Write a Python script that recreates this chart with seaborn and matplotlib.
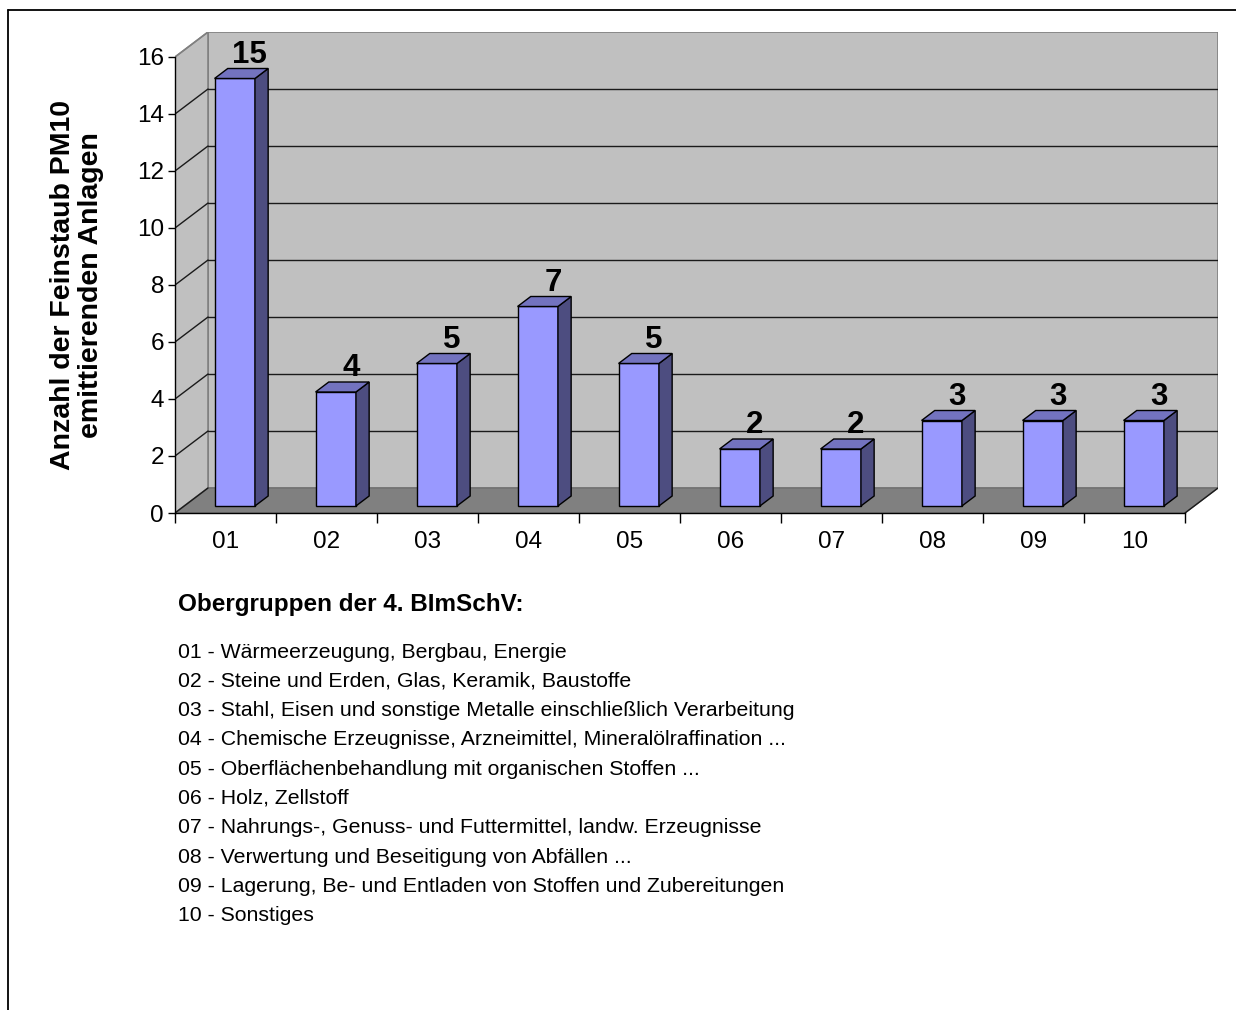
import numpy as np
import pandas as pd
import matplotlib
matplotlib.use("Agg")
import matplotlib.pyplot as plt
import seaborn as sns
from matplotlib.patches import Polygon
from matplotlib.lines import Line2D

# ---------------- data ----------------
codes = ["01", "02", "03", "04", "05", "06", "07", "08", "09", "10"]
counts = [15, 4, 5, 7, 5, 2, 2, 3, 3, 3]
y_ticks = [0, 2, 4, 6, 8, 10, 12, 14, 16]
y_label = "Anzahl der Feinstaub PM10\nemittierenden Anlagen"
legend_title = "Obergruppen der 4. BImSchV:"
group_names = [
    "01 - Wärmeerzeugung, Bergbau, Energie",
    "02 - Steine und Erden, Glas, Keramik, Baustoffe",
    "03 - Stahl, Eisen und sonstige Metalle einschließlich Verarbeitung",
    "04 - Chemische Erzeugnisse, Arzneimittel, Mineralölraffination ...",
    "05 - Oberflächenbehandlung mit organischen Stoffen ...",
    "06 - Holz, Zellstoff",
    "07 - Nahrungs-, Genuss- und Futtermittel, landw. Erzeugnisse",
    "08 - Verwertung und Beseitigung von Abfällen ...",
    "09 - Lagerung, Be- und Entladen von Stoffen und Zubereitungen",
    "10 - Sonstiges",
]

# ---------------- style ----------------
sns.set_theme(style="white")
plt.rcParams["font.family"] = ["Liberation Sans", "DejaVu Sans"]
plt.rcParams["text.color"] = "black"
plt.rcParams["axes.labelcolor"] = "black"
plt.rcParams["xtick.color"] = "black"
plt.rcParams["ytick.color"] = "black"

W_PX, H_PX = 1236, 1010
fig = plt.figure(figsize=(W_PX / 100, H_PX / 100), dpi=100)

# 3D depth (data units) of the whole box and of the bars
DX, DY = 0.327, 0.877
F1, F2 = 0.28, 0.40
ymax = max(y_ticks)
n = len(codes)

# axes: front y axis at x=175px, floor front at y=513px
left_px, right_px, top_px, bot_px = 175, 1218, 32, 513
ax = fig.add_axes([left_px / W_PX, 1 - bot_px / H_PX,
                   (right_px - left_px) / W_PX, (bot_px - top_px) / H_PX])
ax.set_facecolor("none")

df = pd.DataFrame({"code": codes, "count": counts})
sns.barplot(data=df, x="code", y="count", ax=ax, width=0.4, color="#9999ff",
            saturation=1, edgecolor="black", linewidth=1.0, zorder=5)
bar_patches = list(ax.patches)

x0, x1 = -0.5, n - 0.5

# walls
back = Polygon([(x0 + DX, DY), (x1 + DX, DY), (x1 + DX, ymax + DY), (x0 + DX, ymax + DY)],
               closed=True, facecolor="#c0c0c0", edgecolor="#808080", lw=1.2, zorder=0)
side = Polygon([(x0, 0), (x0 + DX, DY), (x0 + DX, ymax + DY), (x0, ymax)],
               closed=True, facecolor="#c0c0c0", edgecolor="#808080", lw=1.2, zorder=0)
floor = Polygon([(x0, 0), (x1, 0), (x1 + DX, DY), (x0 + DX, DY)],
                closed=True, facecolor="#808080", edgecolor="#707070", lw=1.0, zorder=1)
for p in (back, side, floor):
    ax.add_patch(p)

# gridlines on back wall and side wall
for v in y_ticks:
    if 0 < v < ymax:
        ax.plot([x0 + DX, x1 + DX], [v + DY, v + DY], color="#1a1a1a", lw=1.0, zorder=2)
    col = "#808080" if v == ymax else "#1a1a1a"
    ax.plot([x0, x0 + DX], [v, v + DY], color=col, lw=1.0, zorder=2)
ax.plot([x1, x1 + DX], [0, DY], color="#1a1a1a", lw=1.0, zorder=2)

# 3D bars built from the seaborn patches
for p, v in zip(bar_patches, counts):
    bx = p.get_x() + F1 * DX
    w = p.get_width()
    h = p.get_height()
    by = F1 * DY
    p.set_x(bx)
    p.set_y(by)
    ddx, ddy = F2 * DX, F2 * DY
    side_face = Polygon([(bx + w, by), (bx + w + ddx, by + ddy),
                         (bx + w + ddx, by + h + ddy), (bx + w, by + h)],
                        closed=True, facecolor="#4d4d80", edgecolor="black", lw=1.0, zorder=5)
    top_face = Polygon([(bx, by + h), (bx + w, by + h),
                        (bx + w + ddx, by + h + ddy), (bx + ddx, by + h + ddy)],
                       closed=True, facecolor="#7373bf", edgecolor="black", lw=1.0, zorder=5)
    ax.add_patch(side_face)
    ax.add_patch(top_face)
    ax.text(bx + w / 2 + 0.15, by + h + ddy + 0.2, f"{v:g}", ha="center", va="baseline",
            fontsize=22.5, fontweight="bold", color="black", zorder=6)

ax.set_xlim(x0, x1 + DX)
ax.set_ylim(0, ymax + DY)

# spines
for s in ("top", "right"):
    ax.spines[s].set_visible(False)
ax.spines["left"].set_bounds(0, ymax)
ax.spines["bottom"].set_bounds(x0, x1)
for s in ("left", "bottom"):
    ax.spines[s].set_color("black")
    ax.spines[s].set_linewidth(1.0)
    ax.spines[s].set_zorder(3)

ax.set_yticks(y_ticks)
ax.set_yticklabels([str(t) for t in y_ticks])
ax.tick_params(axis="y", which="major", direction="out", length=5, width=1,
               color="black", labelcolor="black", labelsize=17.5, pad=3, left=True)
ax.set_xticks(np.arange(x0, x1 + 0.01, 1.0))
ax.set_xticklabels([])
ax.set_xticks(np.arange(n), minor=True)
ax.set_xticklabels(codes, minor=True)
ax.tick_params(axis="x", which="major", direction="out", length=7, width=1,
               color="black", bottom=True)
ax.tick_params(axis="x", which="minor", length=0, labelsize=17.5, labelcolor="black", pad=13)
ax.set_xlabel("")
ax.set_ylabel("")

# y label
fig.text(77 / W_PX, 1 - 285 / H_PX, y_label, rotation=90, ha="center", va="center",
         multialignment="center", fontsize=20.5, fontweight="bold", linespacing=1.08,
         color="black")

# legend text block
fig.text(178 / W_PX, 1 - 604 / H_PX, legend_title, ha="left", va="center",
         fontsize=17.5, fontweight="bold", color="black")
for i, name in enumerate(group_names):
    fig.text(178 / W_PX, 1 - (652 + i * 29.3) / H_PX, name, ha="left", va="center",
             fontsize=15.3, color="black")

# outer frame (top and left)
fig.add_artist(Line2D([8 / W_PX, 1.0], [1 - 10 / H_PX, 1 - 10 / H_PX],
                      transform=fig.transFigure, color="black", lw=1.3))
fig.add_artist(Line2D([8 / W_PX, 8 / W_PX], [1 - 10 / H_PX, 0.0],
                      transform=fig.transFigure, color="black", lw=1.3))

fig.savefig("out.png", dpi=100, facecolor="white")
